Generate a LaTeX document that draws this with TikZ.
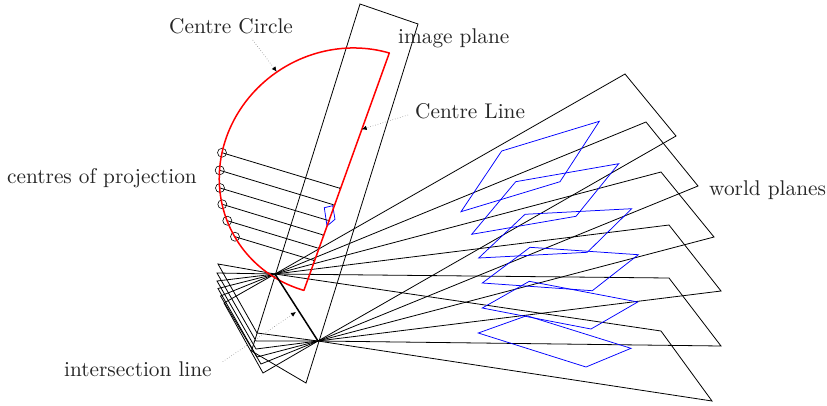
\documentclass[tikz,border=0pt]{standalone}
\usetikzlibrary{arrows.meta}
\newcommand{\lbl}[1]{\scalebox{2.13}{#1}}
\tikzset{
  px/.style={x=1pt,y=-1pt},
  planeedge/.style={draw=black,line width=0.8pt,line join=miter},
  bluequad/.style={draw=blue,line width=0.75pt},
  redline/.style={draw=red,line width=1.5pt,line join=round},
  axisline/.style={draw=black,line width=1.5pt},
  raysty/.style={draw=black,line width=0.8pt},
  pointer/.style={draw=black!45,dotted,line width=0.6pt,-{Latex[black,length=5pt,width=4.5pt]}},
  centremark/.style={draw=black,line width=0.6pt,circle,minimum size=9pt,inner sep=0pt},
  footdot/.style={fill=black,circle,minimum size=2.2pt,inner sep=0pt},
  lab/.style={anchor=west,inner sep=0pt,text=black!85}
}
\begin{document}
\begin{tikzpicture}[px]
\useasboundingbox (0,0) rectangle (827,405);
% intersection line
\coordinate (A) at (275,274);
\coordinate (B) at (318,341);
% image plane
\coordinate (i1) at (360,4);
\coordinate (i2) at (418,24);
\coordinate (i3) at (306,383);
\coordinate (i4) at (251.5,351);
\draw[planeedge] (i1) -- (i2) -- (i3) -- (i4) -- cycle;
% world planes
\foreach \n/\tr/\br/\lt/\lb in {
  1/{625,74}/{676,136}/{224,303}/{263,373},
  2/{646,122}/{698,186}/{220.5,296}/{261,364},
  3/{661,172}/{714,237}/{218,288.5}/{257,357},
  4/{669,225}/{721,291}/{217,281}/{256,349},
  5/{669,278}/{721,346}/{217,273}/{256,341},
  6/{661,331}/{712,401}/{218,264}/{257,333}}{
  \coordinate (tr\n) at (\tr);
  \coordinate (br\n) at (\br);
  \coordinate (lt\n) at (\lt);
  \coordinate (lb\n) at (\lb);
  \draw[planeedge] (A) -- (tr\n) -- (br\n) -- (B) -- (lb\n) -- (lt\n) -- cycle;
}
% blue quads
\foreach \n/\a/\b/\c/\d in {
  1/{501.7,151}/{599.3,121.3}/{560,181.7}/{461,211.7},
  2/{515.7,181.7}/{618.7,163.7}/{576,216.3}/{471.7,234.3},
  3/{525,214.3}/{631.7,208.7}/{587.3,252.3}/{478.7,258},
  4/{530,247.3}/{638.3,254.7}/{592.3,290.7}/{482.3,283},
  5/{529.3,281.3}/{637.7,302}/{591,329}/{482.3,308},
  6/{526.7,315.7}/{631,348.3}/{586,367}/{478.3,333},
  7/{324.3,207.7}/{332.7,205.7}/{335,219.3}/{327,226}}{
  \coordinate (qa\n) at (\a);
  \coordinate (qb\n) at (\b);
  \coordinate (qc\n) at (\c);
  \coordinate (qd\n) at (\d);
  \draw[bluequad] (qa\n) -- (qb\n) -- (qc\n) -- (qd\n) -- cycle;
}
% centres and rays
\foreach \n/\c/\f in {
  1/{222,152.7}/{340,188.3},
  2/{219.7,170.3}/{334.3,205},
  3/{220,188}/{329,220.7},
  4/{222.3,204.3}/{323.3,235},
  5/{227.3,220.7}/{318.7,248.3},
  6/{235,236.7}/{314,260.5}}{
  \node[centremark] (c\n) at (\c) {};
  \node[footdot] (f\n) at (\f) {};
  \draw[raysty] (c\n.center) -- (f\n);
}
% centre circle and centre line
\draw[redline] plot[domain=0:180,samples=91,smooth] ({346.6+42.7*cos(\x)-120*sin(\x)},{171.7-118.7*cos(\x)-35*sin(\x)}) -- cycle;
% thick intersection line
\draw[axisline] (A) -- (B);
% labels
\node[lab] (lcc) at (169,26.5) {\lbl{Centre Circle}};
\node[lab] (lip) at (398,38.7) {\lbl{image plane}};
\node[lab] (lcl) at (415,111.5) {\lbl{Centre Line}};
\node[lab] (lwp) at (709,189.7) {\lbl{world planes}};
\node[lab] (lcp) at (7,177.7) {\lbl{centres of projection}};
\node[lab] (lil) at (64,369.5) {\lbl{intersection line}};
% pointers
\coordinate (pcc0) at (252.7,40);
\coordinate (pcc1) at (276.7,71.7);
\coordinate (pcl0) at (408,115);
\coordinate (pcl1) at (361.7,129.3);
\coordinate (pil0) at (222.7,361.7);
\coordinate (pil1) at (296,312);
\foreach \n in {cc,cl,il}{
  \draw[pointer] (p\n0) -- (p\n1);
}
\end{tikzpicture}
\end{document}
